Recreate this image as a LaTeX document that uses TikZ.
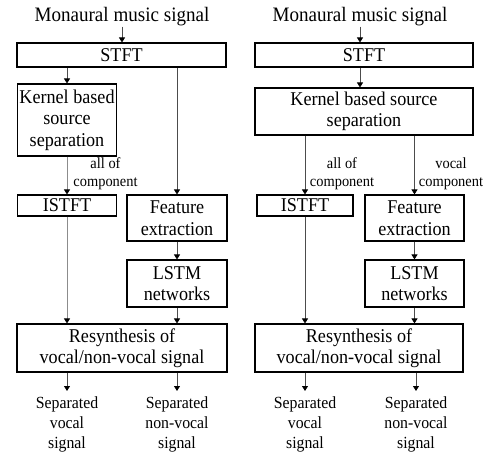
\documentclass[tikz,border=0pt]{standalone}
\usepackage{fontspec}
\setmainfont{Liberation Serif}[FakeStretch=0.93]
\usetikzlibrary{arrows.meta}
\tikzset{
  box/.style={draw=black, line width=1.1pt, inner sep=0pt, align=center,
    font=\fontsize{19.5}{21.5}\selectfont},
  title/.style={inner sep=0pt, font=\fontsize{20.5}{22}\selectfont},
  lbl/.style={inner sep=0pt, align=center, font=\fontsize{15.5}{18}\selectfont},
  outtxt/.style={inner sep=0pt, align=center, anchor=north, font=\fontsize{17}{20}\selectfont},
  arr/.style={draw=black!70, line width=0.8pt, -{Triangle[length=5pt,width=6pt,color=black]}},
  arrl/.style={draw=black!45, line width=0.9pt, -{Triangle[length=5pt,width=6pt,color=black]}},
}
\begin{document}
\begin{tikzpicture}[x=1pt,y=-1pt]
\useasboundingbox (0,0) rectangle (489,452);
% ---------- left ----------
\node[title] (inL) at (122,17) {Monaural music signal};
\node[box, minimum width=209pt, minimum height=24pt] (stftL) at (121.5,55) {STFT};
\node[box, minimum width=99pt, minimum height=72pt] (kerL) at (67,120) {Kernel based\\source\\separation};
\node[box, minimum width=99pt, minimum height=21pt] (istL) at (67,205.5) {ISTFT};
\node[box, minimum width=100pt, minimum height=46pt] (featL) at (177,218) {Feature\\extraction};
\node[box, minimum width=100pt, minimum height=47pt] (lstmL) at (177,283.5) {LSTM\\networks};
\node[box, minimum width=210pt, minimum height=48pt] (resL) at (122,348) {Resynthesis of\\vocal/non-vocal signal};
\node[lbl] (labL) at (105.5,174) {all of\\component};
\node[outtxt] (oL1) at (67,396) {Separated\\vocal\\signal};
\node[outtxt] (oL2) at (177,396) {Separated\\non-vocal\\signal};
\draw[arr] (inL.south) -- (inL.south |- stftL.north);
\draw[arr] (kerL.north |- stftL.south) -- (kerL.north);
\draw[arr] (featL.north |- stftL.south) -- (featL.north);
\draw[arrl] (kerL.south) -- (istL.north);
\draw[arrl] (istL.south) -- (istL.south |- resL.north);
\draw[arr] (featL.south) -- (lstmL.north);
\draw[arr] (lstmL.south) -- (lstmL.south |- resL.north);
\draw[arr] (oL1.north |- resL.south) -- ([yshift=5pt]oL1.north);
\draw[arr] (oL2.north |- resL.south) -- ([yshift=5pt]oL2.north);
% ---------- right ----------
\node[title] (inR) at (360,17) {Monaural music signal};
\node[box, minimum width=218pt, minimum height=24pt] (stftR) at (364,55) {STFT};
\node[box, minimum width=218pt, minimum height=47pt] (kerR) at (364,111.5) {Kernel based source\\separation};
\node[box, minimum width=96pt, minimum height=21pt] (istR) at (305,205.5) {ISTFT};
\node[box, minimum width=99pt, minimum height=46pt] (featR) at (414.5,218) {Feature\\extraction};
\node[box, minimum width=99pt, minimum height=47pt] (lstmR) at (414.5,283.5) {LSTM\\networks};
\node[box, minimum width=208pt, minimum height=48pt] (resR) at (359,348) {Resynthesis of\\vocal/non-vocal signal};
\node[lbl] (labR1) at (342,174) {all of\\component};
\node[lbl] (labR2) at (451,174) {vocal\\component};
\node[outtxt] (oR1) at (305,396) {Separated\\vocal\\signal};
\node[outtxt] (oR2) at (416,396) {Separated\\non-vocal\\signal};
\draw[arr] (inR.south) -- (inR.south |- stftR.north);
\draw[arr] (inR.south |- stftR.south) -- (inR.south |- kerR.north);
\draw[arr] (istR.north |- kerR.south) -- (istR.north);
\draw[arr] (featR.north |- kerR.south) -- (featR.north);
\draw[arr] (istR.south) -- (istR.south |- resR.north);
\draw[arr] (featR.south) -- (lstmR.north);
\draw[arr] (lstmR.south) -- (lstmR.south |- resR.north);
\draw[arr] (oR1.north |- resR.south) -- ([yshift=5pt]oR1.north);
\draw[arr] (oR2.north |- resR.south) -- ([yshift=5pt]oR2.north);
\end{tikzpicture}
\end{document}
